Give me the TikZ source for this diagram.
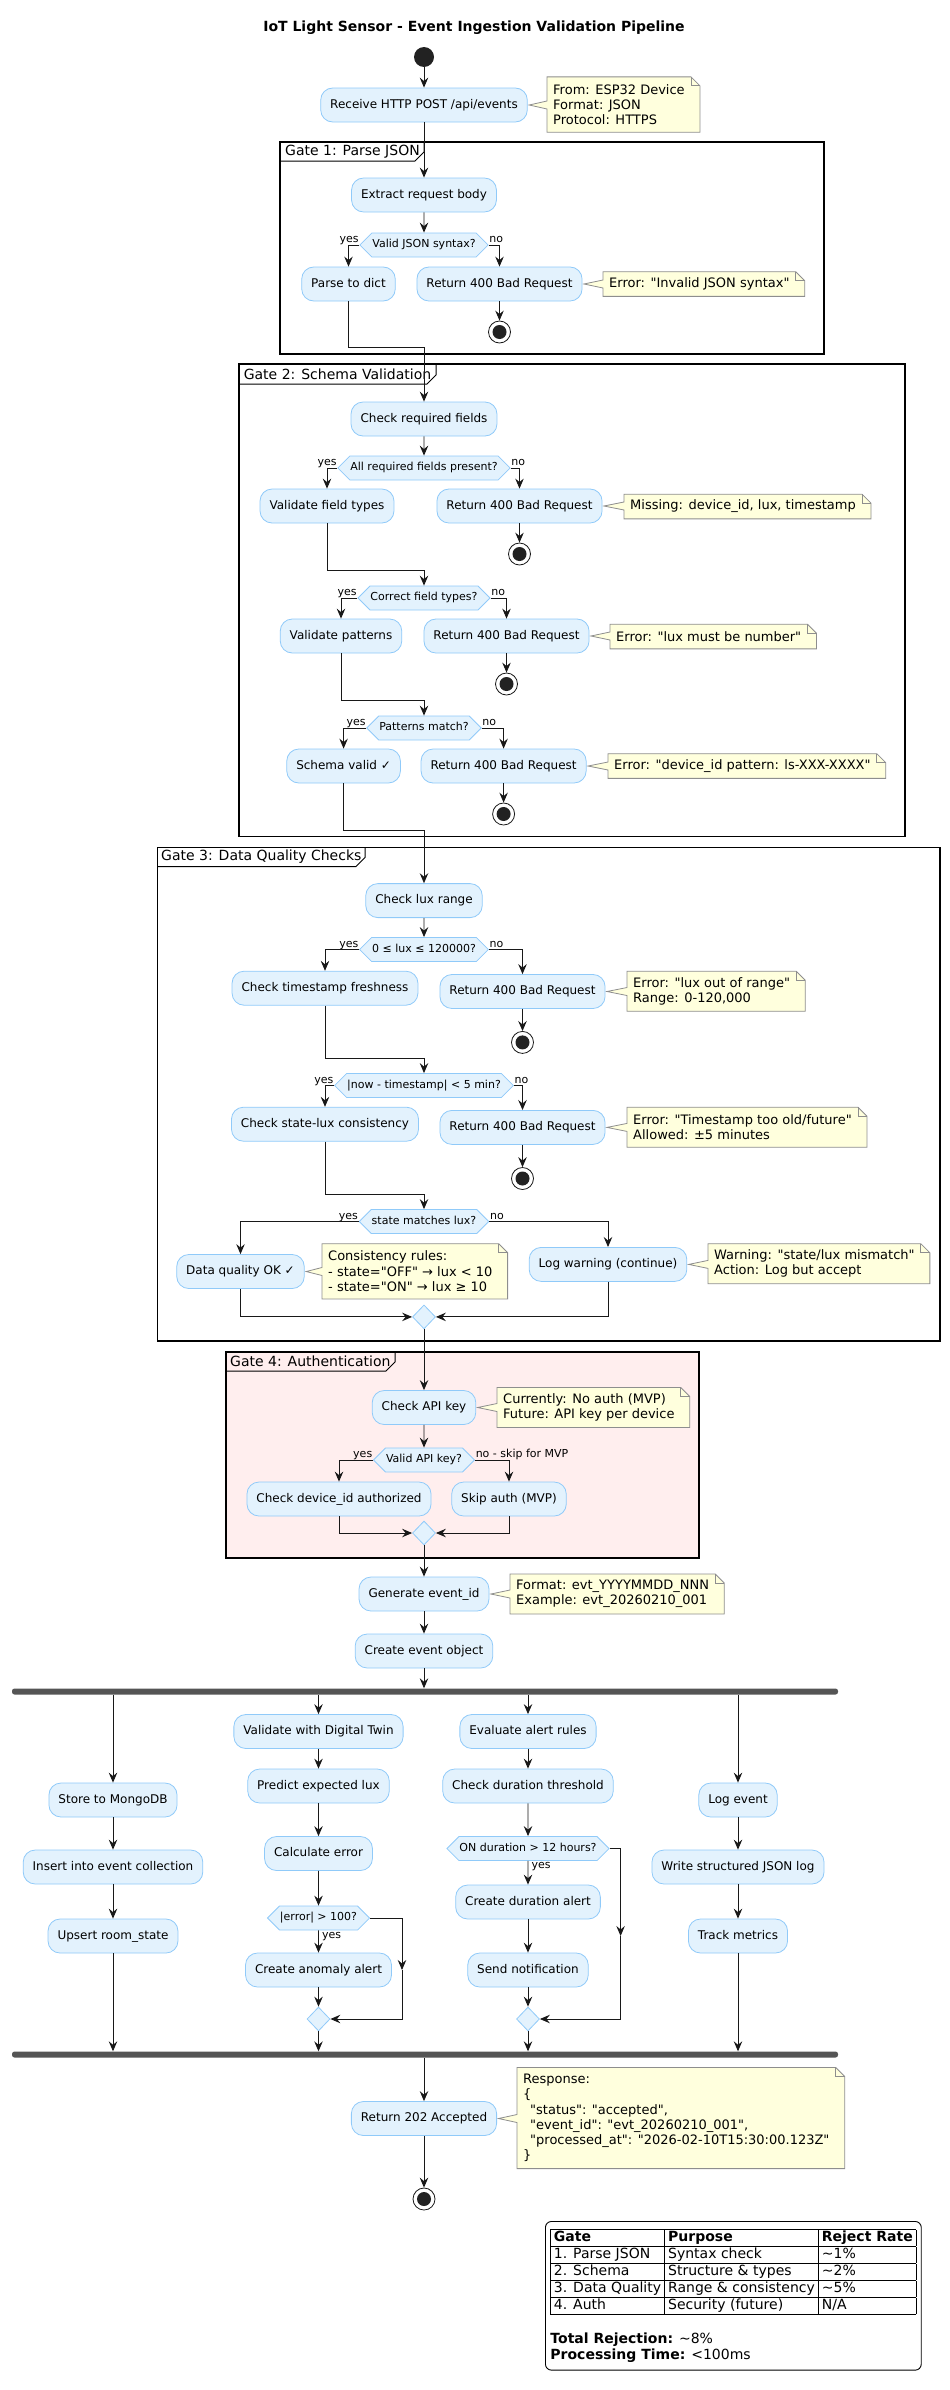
\documentclass[tikz,border=0pt]{standalone}
\usepackage{fontspec}
\setmainfont{DejaVu Sans}[Ligatures=TeXOff]
\usetikzlibrary{arrows.meta,calc,shapes.geometric,shapes.symbols}
\pgfdeclarelayer{bg}
\pgfsetlayers{bg,main}
\definecolor{actfill}{HTML}{E3F2FD}
\definecolor{actline}{HTML}{90CAF9}
\definecolor{notefill}{HTML}{FFFFDD}
\definecolor{noteline}{HTML}{8E8E8E}
\definecolor{authfill}{HTML}{FFEEEE}
\definecolor{barcol}{HTML}{555555}
\definecolor{darkc}{HTML}{222222}
\definecolor{edgecol}{HTML}{181818}
\newcommand{\notebg}[2]{%
  \begin{pgfonlayer}{bg}
  \path[fill=notefill, draw=noteline, line width=0.8pt] let \p1=(#2.east), \p2=(#1.west) in
   (#1.north west) -- (#1.north east) -- ([xshift=9pt,yshift=-9pt]#1.north east) -- ([xshift=9pt]#1.south east) -- (#1.south west) -- (\x2,{\y1-4pt}) -- ({\x1+1.5pt},\y1) -- (\x2,{\y1+4pt}) -- cycle;
  \draw[noteline, line width=0.8pt] (#1.north east) -- ([yshift=-9pt]#1.north east) -- ([xshift=9pt,yshift=-9pt]#1.north east);
  \end{pgfonlayer}}
\begin{document}
\begin{tikzpicture}[x=1pt,y=-1pt,
  act/.style={draw=actline, fill=actfill, line width=0.8pt, rounded corners=12pt, minimum height=34pt, inner xsep=9.5pt, inner ysep=0pt, text height=9pt, text depth=2.8pt, font=\fontsize{12}{14}\selectfont},
  hexd/.style={signal, signal to=west and east, signal pointer angle=90, draw=actline, fill=actfill, line width=0.8pt, minimum height=24pt, inner xsep=0.5pt, inner ysep=0pt, text height=8.2pt, text depth=2.6pt, font=\fontsize{11}{13}\selectfont},
  mergd/.style={diamond, draw=actline, fill=actfill, line width=0.8pt, minimum width=23pt, minimum height=24pt, inner sep=0pt},
  startn/.style={circle, fill=darkc, minimum size=20pt, inner sep=0pt},
  stopn/.style={circle, draw=edgecol, fill=white, line width=0.8pt, minimum size=22pt, inner sep=0pt, path picture={\fill[darkc] (path picture bounding box.center) circle[radius=7pt];}},
  arr/.style={draw=edgecol, line width=0.9pt, -{Stealth[length=10pt,width=8.5pt,inset=3.5pt]}},
  lbl/.style={font=\fontsize{11}{13}\selectfont, inner sep=0.5pt},
  notet/.style={font=\fontsize{13}{15.2}\selectfont, align=left, inner xsep=6pt, inner ysep=0pt, anchor=west, minimum height={15.3pt*#1+9pt}},
  gateframe/.style={draw=black, line width=1.5pt},
  gatetab/.style={draw=black, line width=1pt},
  gatel/.style={font=\fontsize{14}{16}\selectfont, anchor=west, inner sep=0pt},
  forkbar/.style={fill=barcol, rounded corners=2.5pt, minimum width=826pt, minimum height=6pt, inner sep=0pt},
  legendbox/.style={draw=black, line width=0.9pt, rounded corners=6pt, inner xsep=5pt, inner ysep=8pt, font=\fontsize{14}{16}\selectfont, align=left, anchor=north west}
]
\useasboundingbox (0,0) rectangle (950,2390);
% ---------- gate frames ----------
\begin{pgfonlayer}{bg}
\draw[gateframe] (280,142) rectangle (824,354);
\draw[gatetab] (280,161) -- (415,161) -- (424,152) -- (424,142);
\draw[gateframe] (239,364) rectangle (905,836.5);
\draw[gatetab] (239,384) -- (427,384) -- (436,375) -- (436,364);
\draw[gateframe] (157.6,847.5) rectangle (940,1341);
\draw[gatetab] (157.6,866.5) -- (356,866.5) -- (365,857.5) -- (365,847.5);
\draw[gateframe, fill=authfill] (226,1352) rectangle (699,1558);
\draw[gatetab] (226,1371) -- (386,1371) -- (395,1362) -- (395,1352);
\end{pgfonlayer}
\node[gatel] (g1) at (285,152) {Gate 1: Parse JSON};
\node[gatel] (g2) at (243.6,374) {Gate 2: Schema Validation};
\node[gatel] (g3) at (161,857) {Gate 3: Data Quality Checks};
\node[gatel] (g4) at (230,1361) {Gate 4: Authentication};
% ---------- title & start ----------
\node[font=\bfseries\fontsize{14}{16}\selectfont] (title) at (474,28) {IoT Light Sensor - Event Ingestion Validation Pipeline};
\node[startn] (start) at (424,57) {};
\node[act] (recv) at (424,105) {Receive HTTP POST /api/events};
\node[notet=3] (n1) at (547,104.5) {From: ESP32 Device\\Format: JSON\\Protocol: HTTPS};
\notebg{n1}{recv}
% ---------- gate 1 ----------
\node[act] (extract) at (424,195) {Extract request body};
\node[hexd] (d1) at (424,245) {Valid JSON syntax?};
\node[act] (parse) at (348.5,284) {Parse to dict};
\node[act] (ret1) at (499.5,284) {Return 400 Bad Request};
\node[notet=1] (n2) at (603,284) {Error: "Invalid JSON syntax"};
\notebg{n2}{ret1}
\node[stopn] (stop1) at (499.5,332) {};
\coordinate (j1) at (424,347);
% ---------- gate 2 ----------
\node[act] (chk) at (424,419) {Check required fields};
\node[hexd] (d2) at (424,468) {All required fields present?};
\node[act] (vft) at (327,506) {Validate field types};
\node[act] (ret2) at (519.5,506) {Return 400 Bad Request};
\node[notet=1] (n3) at (624,506.5) {Missing: device\_id, lux, timestamp};
\notebg{n3}{ret2}
\node[stopn] (stop2) at (519.5,554) {};
\coordinate (j2) at (424,570);
\node[hexd] (d3) at (424,598) {Correct field types?};
\node[act] (vpat) at (341,636) {Validate patterns};
\node[act] (ret3) at (506.5,636) {Return 400 Bad Request};
\node[notet=1] (n4) at (610,636.5) {Error: "lux must be number"};
\notebg{n4}{ret3}
\node[stopn] (stop3) at (506.5,684) {};
\coordinate (j3) at (424,700);
\node[hexd] (d4) at (424,728) {Patterns match?};
\node[act] (sv) at (343.6,766) {Schema valid ✓};
\node[act] (ret4) at (503.6,766) {Return 400 Bad Request};
\node[notet=1] (n5) at (608,766) {Error: "device\_id pattern: ls-XXX-XXXX"};
\notebg{n5}{ret4}
\node[stopn] (stop4) at (503.6,814) {};
\coordinate (j4) at (424,830);
% ---------- gate 3 ----------
\node[act] (clux) at (424,900.6) {Check lux range};
\node[hexd] (d5) at (424,949.5) {0 ≤ lux ≤ 120000?};
\node[act] (ctf) at (325,988.2) {Check timestamp freshness};
\node[act] (ret5) at (522.5,991.5) {Return 400 Bad Request};
\node[notet=2] (n6) at (627,991.3) {Error: "lux out of range"\\Range: 0-120,000};
\notebg{n6}{ret5}
\node[stopn] (stop5) at (522.5,1042.4) {};
\coordinate (j5) at (424,1058);
\node[hexd] (d6) at (424,1085.5) {|now - timestamp| < 5 min?};
\node[act] (csl) at (325,1124.2) {Check state-lux consistency};
\node[act] (ret6) at (522.5,1127.4) {Return 400 Bad Request};
\node[notet=2] (n7) at (627,1127.2) {Error: "Timestamp too old/future"\\Allowed: ±5 minutes};
\notebg{n7}{ret6}
\node[stopn] (stop6) at (522.5,1178.5) {};
\coordinate (j6) at (424,1194.3);
\node[hexd] (d7) at (424,1221.5) {state matches lux?};
\node[act] (dq) at (240.5,1271.5) {Data quality OK ✓};
\node[notet=3] (n8) at (322,1271.3) {Consistency rules:\\- state="OFF" → lux < 10\\- state="ON" → lux ≥ 10};
\notebg{n8}{dq}
\node[act] (logw) at (608,1264.4) {Log warning (continue)};
\node[notet=2] (n9) at (708,1263.7) {Warning: "state/lux mismatch"\\Action: Log but accept};
\notebg{n9}{logw}
\node[mergd] (mg3) at (424,1316.9) {};
% ---------- gate 4 ----------
\node[act] (capi) at (424,1407.5) {Check API key};
\node[notet=2] (n10) at (497,1407.5) {Currently: No auth (MVP)\\Future: API key per device};
\notebg{n10}{capi}
\node[hexd] (d8) at (424,1460) {Valid API key?};
\node[act] (cdev) at (339,1499) {Check device\_id authorized};
\node[act] (skip) at (509,1499) {Skip auth (MVP)};
\node[mergd] (mg4) at (424,1533) {};
% ---------- after gates ----------
\node[act] (gen) at (424,1594) {Generate event\_id};
\node[notet=2] (n11) at (510,1594) {Format: evt\_YYYYMMDD\_NNN\\Example: evt\_20260210\_001};
\notebg{n11}{gen}
\node[act] (ceo) at (424,1651) {Create event object};
\node[forkbar] (fork) at (425,1691.5) {};
% branch 1
\node[act] (store) at (113,1800) {Store to MongoDB};
\node[act] (insert) at (113,1867) {Insert into event collection};
\node[act] (upsert) at (113,1936) {Upsert room\_state};
% branch 2
\node[act] (vdt) at (318.5,1731.5) {Validate with Digital Twin};
\node[act] (pel) at (318.5,1786) {Predict expected lux};
\node[act] (cerr) at (318.5,1853.5) {Calculate error};
\node[hexd] (derr) at (318.5,1918) {|error| > 100?};
\node[act] (caa) at (318.5,1970) {Create anomaly alert};
\node[mergd] (mg5) at (318.5,2019) {};
\coordinate (bp1) at (402,1970);
% branch 3
\node[act] (ear) at (528,1731.5) {Evaluate alert rules};
\node[act] (cdt) at (528,1786) {Check duration threshold};
\node[hexd] (don) at (528,1848.5) {ON duration > 12 hours?};
\node[act] (cda) at (528,1902) {Create duration alert};
\node[act] (sn) at (528,1970) {Send notification};
\node[mergd] (mg6) at (528,2019) {};
\coordinate (bp2) at (620.6,1936);
% branch 4
\node[act] (logev) at (738,1800) {Log event};
\node[act] (wsl) at (738,1867) {Write structured JSON log};
\node[act] (tm) at (738,1936) {Track metrics};
\node[forkbar] (join) at (425,2054.5) {};
\node[act] (r202) at (424,2118.5) {Return 202 Accepted};
\node[notet=6] (n12) at (517,2118) {Response:\\\{\\\hspace*{7pt}"status": "accepted",\\\hspace*{7pt}"event\_id": "evt\_20260210\_001",\\\hspace*{7pt}"processed\_at": "2026-02-10T15:30:00.123Z"\\\}};
\notebg{n12}{r202}
\node[stopn] (stopF) at (424,2199) {};
% ---------- labels ----------
\node[lbl, anchor=base east] (y1) at ([yshift=2.5pt]d1.west) {yes};
\node[lbl, anchor=base west] (o1) at ([yshift=2.5pt]d1.east) {no};
\node[lbl, anchor=base east] (y2) at ([yshift=2.5pt]d2.west) {yes};
\node[lbl, anchor=base west] (o2) at ([yshift=2.5pt]d2.east) {no};
\node[lbl, anchor=base east] (y3) at ([yshift=2.5pt]d3.west) {yes};
\node[lbl, anchor=base west] (o3) at ([yshift=2.5pt]d3.east) {no};
\node[lbl, anchor=base east] (y4) at ([yshift=2.5pt]d4.west) {yes};
\node[lbl, anchor=base west] (o4) at ([yshift=2.5pt]d4.east) {no};
\node[lbl, anchor=base east] (y5) at ([yshift=2.5pt]d5.west) {yes};
\node[lbl, anchor=base west] (o5) at ([yshift=2.5pt]d5.east) {no};
\node[lbl, anchor=base east] (y6) at ([yshift=2.5pt]d6.west) {yes};
\node[lbl, anchor=base west] (o6) at ([yshift=2.5pt]d6.east) {no};
\node[lbl, anchor=base east] (y7) at ([yshift=2.5pt]d7.west) {yes};
\node[lbl, anchor=base west] (o7) at ([yshift=2.5pt]d7.east) {no};
\node[lbl, anchor=base east] (y8) at ([yshift=2.5pt]d8.west) {yes};
\node[lbl, anchor=base west] (o8) at ([yshift=2.5pt]d8.east) {no - skip for MVP};
\node[lbl, anchor=north west] (y9) at ([xshift=3pt,yshift=-1pt]derr.south) {yes};
\node[lbl, anchor=north west] (y10) at ([xshift=3pt,yshift=-1pt]don.south) {yes};
% ---------- connectors ----------
\draw[arr] (start) -- (recv);
\draw[arr] (recv) -- (extract);
\draw[arr] (extract) -- (d1);
\draw[arr] (d1.west) -| (parse.north);
\draw[arr] (d1.east) -| (ret1.north);
\draw[arr] (ret1) -- (stop1);
\draw[arr] (parse.south) |- (j1) -- (chk.north);
\draw[arr] (chk) -- (d2);
\draw[arr] (d2.west) -| (vft.north);
\draw[arr] (d2.east) -| (ret2.north);
\draw[arr] (ret2) -- (stop2);
\draw[arr] (vft.south) |- (j2) -- (d3.north);
\draw[arr] (d3.west) -| (vpat.north);
\draw[arr] (d3.east) -| (ret3.north);
\draw[arr] (ret3) -- (stop3);
\draw[arr] (vpat.south) |- (j3) -- (d4.north);
\draw[arr] (d4.west) -| (sv.north);
\draw[arr] (d4.east) -| (ret4.north);
\draw[arr] (ret4) -- (stop4);
\draw[arr] (sv.south) |- (j4) -- (clux.north);
\draw[arr] (clux) -- (d5);
\draw[arr] (d5.west) -| (ctf.north);
\draw[arr] (d5.east) -| (ret5.north);
\draw[arr] (ret5) -- (stop5);
\draw[arr] (ctf.south) |- (j5) -- (d6.north);
\draw[arr] (d6.west) -| (csl.north);
\draw[arr] (d6.east) -| (ret6.north);
\draw[arr] (ret6) -- (stop6);
\draw[arr] (csl.south) |- (j6) -- (d7.north);
\draw[arr] (d7.west) -| (dq.north);
\draw[arr] (d7.east) -| (logw.north);
\draw[arr] (dq.south) |- (mg3.west);
\draw[arr] (logw.south) |- (mg3.east);
\draw[arr] (mg3) -- (capi);
\draw[arr] (capi) -- (d8);
\draw[arr] (d8.west) -| (cdev.north);
\draw[arr] (d8.east) -| (skip.north);
\draw[arr] (cdev.south) |- (mg4.west);
\draw[arr] (skip.south) |- (mg4.east);
\draw[arr] (mg4) -- (gen);
\draw[arr] (gen) -- (ceo);
\draw[arr] (ceo) -- (ceo |- fork.north);
\draw[arr] (fork.south -| store) -- (store);
\draw[arr] (store) -- (insert);
\draw[arr] (insert) -- (upsert);
\draw[arr] (upsert) -- (upsert |- join.north);
\draw[arr] (fork.south -| vdt) -- (vdt);
\draw[arr] (vdt) -- (pel);
\draw[arr] (pel) -- (cerr);
\draw[arr] (cerr) -- (derr);
\draw[arr] (derr) -- (caa);
\draw[arr] (caa) -- (mg5);
\draw[arr] (derr.east) -| (bp1);
\draw[arr] (bp1) |- (mg5.east);
\draw[arr] (mg5) -- (mg5 |- join.north);
\draw[arr] (fork.south -| ear) -- (ear);
\draw[arr] (ear) -- (cdt);
\draw[arr] (cdt) -- (don);
\draw[arr] (don) -- (cda);
\draw[arr] (cda) -- (sn);
\draw[arr] (sn) -- (mg6);
\draw[arr] (don.east) -| (bp2);
\draw[arr] (bp2) |- (mg6.east);
\draw[arr] (mg6) -- (mg6 |- join.north);
\draw[arr] (fork.south -| logev) -- (logev);
\draw[arr] (logev) -- (wsl);
\draw[arr] (wsl) -- (tm);
\draw[arr] (tm) -- (tm |- join.north);
\draw[arr] (join.south -| r202) -- (r202);
\draw[arr] (r202) -- (stopF);
% ---------- legend ----------
\node[legendbox] (legend) at (545,2221) {\setlength{\tabcolsep}{3.5pt}\setlength{\arrayrulewidth}{1pt}%
\begin{tabular}{|l|l|l|}\hline
\textbf{Gate} & \textbf{Purpose} & \textbf{Reject Rate}\\\hline
1. Parse JSON & Syntax check & \textasciitilde1\%\\\hline
2. Schema & Structure \& types & \textasciitilde2\%\\\hline
3. Data Quality & Range \& consistency & \textasciitilde5\%\\\hline
4. Auth & Security (future) & N/A\\\hline
\end{tabular}\\[16pt]
\textbf{Total Rejection:} \textasciitilde8\%\\
\textbf{Processing Time:} <100ms};
\end{tikzpicture}
\end{document}
